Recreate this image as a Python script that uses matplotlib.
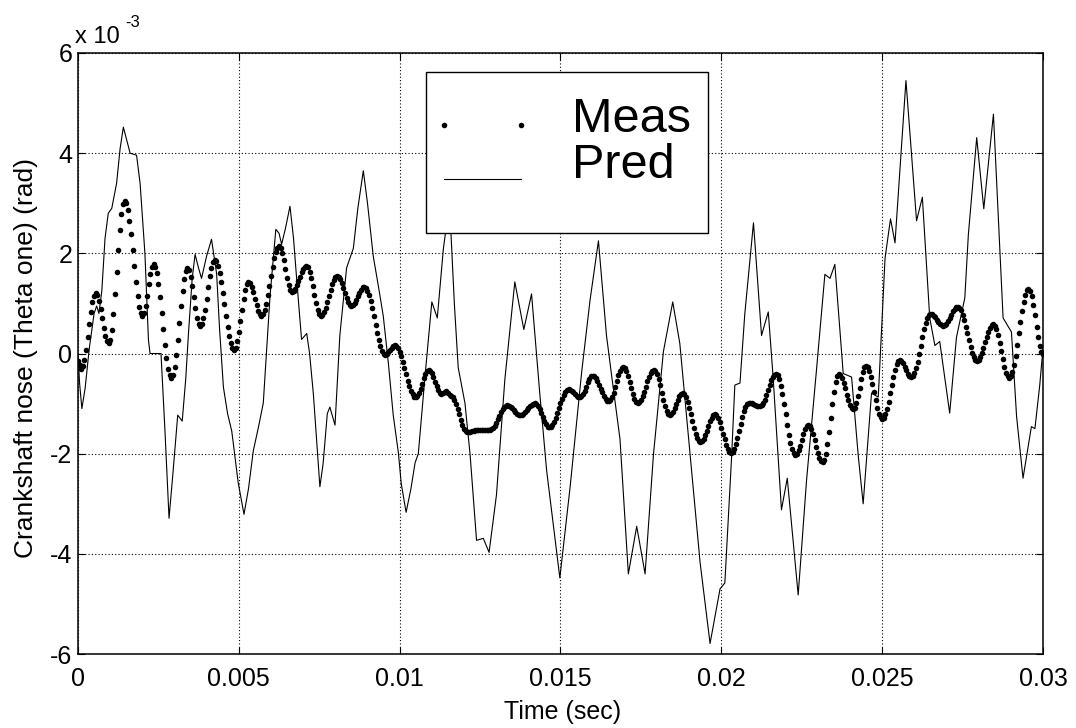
import numpy as np
import matplotlib
matplotlib.use('Agg')
import matplotlib.pyplot as plt
from matplotlib.patches import Rectangle

plt.rcParams['font.family'] = ['Liberation Sans', 'DejaVu Sans']

# measured crankshaft nose angle, sampled every 0.05 ms (units of 1e-3 rad)
meas_dt_ms = 0.05
meas = [
    -0.15, -0.225, -0.30, -0.25, -0.12, 0.07, 0.32, 0.58, 0.82, 1.02,
    1.15, 1.20, 1.16, 1.05, 0.89, 0.70, 0.51, 0.35, 0.24, 0.20,
    0.27, 0.47, 0.79, 1.18, 1.63, 2.07, 2.46, 2.78, 2.98, 3.05,
    3.00, 2.87, 2.65, 2.38, 2.06, 1.74, 1.42, 1.15, 0.93, 0.80,
    0.75, 0.80, 0.94, 1.15, 1.38, 1.59, 1.73, 1.78, 1.73, 1.60,
    1.39, 1.12, 0.81, 0.49, 0.18, -0.09, -0.30, -0.43, -0.48, -0.43,
    -0.27, -0.03, 0.27, 0.61, 0.95, 1.25, 1.49, 1.65, 1.70, 1.66,
    1.53, 1.34, 1.12, 0.90, 0.71, 0.58, 0.54, 0.58, 0.70, 0.87,
    1.09, 1.32, 1.54, 1.71, 1.83, 1.87, 1.84, 1.75, 1.61, 1.42,
    1.21, 0.98, 0.74, 0.53, 0.34, 0.20, 0.11, 0.08, 0.12, 0.24,
    0.42, 0.64, 0.87, 1.09, 1.27, 1.39, 1.43, 1.40, 1.33, 1.22,
    1.09, 0.96, 0.85, 0.78, 0.75, 0.78, 0.86, 0.99, 1.16, 1.35,
    1.54, 1.73, 1.90, 2.03, 2.11, 2.14, 2.11, 2.01, 1.86, 1.69,
    1.51, 1.36, 1.27, 1.23, 1.25, 1.29, 1.36, 1.44, 1.53, 1.62,
    1.69, 1.73, 1.75, 1.72, 1.63, 1.50, 1.34, 1.16, 1.00, 0.87,
    0.78, 0.75, 0.77, 0.83, 0.91, 1.03, 1.15, 1.27, 1.39, 1.47,
    1.53, 1.55, 1.53, 1.48, 1.40, 1.30, 1.20, 1.10, 1.02, 0.97,
    0.95, 0.96, 1.01, 1.07, 1.14, 1.21, 1.27, 1.32, 1.33, 1.31,
    1.25, 1.16, 1.04, 0.90, 0.74, 0.57, 0.41, 0.27, 0.15, 0.06,
    0.00, -0.02, -0.01, 0.03, 0.08, 0.12, 0.16, 0.17, 0.16, 0.11,
    0.04, -0.05, -0.16, -0.29, -0.41, -0.54, -0.65, -0.74, -0.81, -0.86,
    -0.87, -0.85, -0.79, -0.70, -0.60, -0.49, -0.40, -0.34, -0.32, -0.34,
    -0.39, -0.47, -0.56, -0.65, -0.73, -0.78, -0.80, -0.79, -0.76, -0.75,
    -0.78, -0.83, -0.85, -0.87, -0.92, -1.00, -1.10, -1.21, -1.32, -1.42,
    -1.50, -1.55, -1.57, -1.57, -1.56, -1.55, -1.54, -1.53, -1.52, -1.52,
    -1.52, -1.53, -1.53, -1.53, -1.53, -1.52, -1.52, -1.51, -1.48, -1.44,
    -1.38, -1.31, -1.24, -1.17, -1.11, -1.07, -1.04, -1.03, -1.04, -1.06,
    -1.09, -1.13, -1.17, -1.20, -1.22, -1.23, -1.22, -1.20, -1.17, -1.13,
    -1.09, -1.05, -1.02, -1.00, -0.99, -1.00, -1.05, -1.11, -1.19, -1.27,
    -1.35, -1.41, -1.46, -1.47, -1.46, -1.42, -1.36, -1.28, -1.19, -1.09,
    -0.99, -0.90, -0.82, -0.76, -0.72, -0.71, -0.72, -0.74, -0.77, -0.81,
    -0.84, -0.86, -0.87, -0.85, -0.81, -0.74, -0.66, -0.57, -0.50, -0.45,
    -0.44, -0.45, -0.49, -0.55, -0.62, -0.70, -0.77, -0.84, -0.90, -0.94,
    -0.95, -0.93, -0.87, -0.78, -0.67, -0.55, -0.43, -0.34, -0.28, -0.26,
    -0.28, -0.35, -0.44, -0.56, -0.69, -0.81, -0.90, -0.97, -0.99, -0.97,
    -0.93, -0.85, -0.76, -0.66, -0.55, -0.46, -0.38, -0.34, -0.32, -0.34,
    -0.41, -0.51, -0.63, -0.78, -0.92, -1.04, -1.14, -1.21, -1.23, -1.21,
    -1.17, -1.09, -1.01, -0.93, -0.85, -0.81, -0.79, -0.81, -0.87, -0.96,
    -1.08, -1.21, -1.35, -1.48, -1.60, -1.69, -1.75, -1.77, -1.75, -1.70,
    -1.63, -1.54, -1.44, -1.35, -1.28, -1.23, -1.21, -1.23, -1.28, -1.37,
    -1.48, -1.60, -1.71, -1.82, -1.91, -1.96, -1.98, -1.96, -1.90, -1.81,
    -1.69, -1.55, -1.41, -1.27, -1.15, -1.06, -1.00, -0.98, -0.98, -0.99,
    -1.01, -1.02, -1.04, -1.05, -1.05, -1.03, -0.99, -0.92, -0.83, -0.73,
    -0.62, -0.53, -0.46, -0.42, -0.40, -0.43, -0.51, -0.64, -0.81, -1.00,
    -1.21, -1.42, -1.62, -1.78, -1.91, -1.99, -2.02, -2.00, -1.93, -1.84,
    -1.72, -1.61, -1.51, -1.44, -1.42, -1.44, -1.51, -1.61, -1.73, -1.86,
    -1.98, -2.08, -2.15, -2.17, -2.13, -2.00, -1.81, -1.56, -1.29, -1.01,
    -0.76, -0.57, -0.44, -0.40, -0.42, -0.48, -0.58, -0.69, -0.82, -0.93,
    -1.03, -1.09, -1.11, -1.08, -0.98, -0.84, -0.68, -0.51, -0.37, -0.27,
    -0.24, -0.27, -0.34, -0.46, -0.61, -0.77, -0.93, -1.08, -1.20, -1.27,
    -1.30, -1.28, -1.21, -1.10, -0.96, -0.79, -0.63, -0.46, -0.32, -0.21,
    -0.14, -0.12, -0.14, -0.19, -0.26, -0.33, -0.40, -0.45, -0.47, -0.45,
    -0.39, -0.29, -0.16, 0.00, 0.16, 0.32, 0.48, 0.61, 0.71, 0.77,
    0.79, 0.78, 0.75, 0.72, 0.67, 0.62, 0.58, 0.56, 0.55, 0.56,
    0.59, 0.65, 0.71, 0.77, 0.84, 0.89, 0.92, 0.93, 0.91, 0.86,
    0.77, 0.66, 0.53, 0.40, 0.26, 0.13, 0.02, -0.07, -0.12, -0.14,
    -0.12, -0.07, 0.01, 0.11, 0.22, 0.33, 0.43, 0.51, 0.56, 0.58,
    0.55, 0.48, 0.36, 0.21, 0.05, -0.11, -0.26, -0.38, -0.45, -0.48,
    -0.45, -0.36, -0.22, -0.04, 0.18, 0.41, 0.63, 0.85, 1.03, 1.17,
    1.26, 1.29, 1.25, 1.14, 0.97, 0.76, 0.53, 0.32, 0.15, 0.04,
    0.00,
]

# predicted response (ms, 1e-3 rad)
pred_t_ms = [
    0.00, 0.05, 0.12, 0.22, 0.35, 0.50, 0.58, 0.65, 0.74, 0.84,
    0.94, 1.05, 1.20, 1.31, 1.41, 1.50, 1.62, 1.82, 1.93, 2.08,
    2.19, 2.24, 2.58, 2.70, 2.83, 2.95, 3.10, 3.24, 3.35, 3.43,
    3.55, 3.64, 3.75, 3.84, 4.00, 4.15, 4.31, 4.40, 4.52, 4.65,
    4.78, 4.98, 5.16, 5.30, 5.45, 5.60, 5.76, 5.97, 6.15, 6.25,
    6.33, 6.45, 6.59, 6.70, 6.80, 6.95, 7.11, 7.20, 7.32, 7.45,
    7.52, 7.62, 7.75, 7.83, 7.99, 8.14, 8.35, 8.56, 8.70, 8.87,
    9.00, 9.18, 9.35, 9.49, 9.65, 9.80, 9.96, 10.05, 10.20, 10.35,
    10.48, 10.58, 10.79, 11.00, 11.17, 11.36, 11.55, 11.70, 11.82, 12.03,
    12.19, 12.39, 12.60, 12.78, 13.01, 13.27, 13.58, 13.86, 14.10, 14.36,
    14.57, 14.98, 15.30, 15.66, 15.92, 16.18, 16.43, 16.59, 16.85, 17.11,
    17.37, 17.63, 17.89, 18.20, 18.49, 18.71, 19.03, 19.34, 19.65, 19.96,
    20.11, 20.32, 20.42, 20.58, 20.73, 21.00, 21.25, 21.46, 21.61, 21.87,
    22.05, 22.39, 22.65, 22.96, 23.22, 23.38, 23.53, 23.79, 24.05, 24.26,
    24.41, 24.67, 24.88, 25.09, 25.26, 25.40, 25.74, 26.07, 26.25, 26.48,
    26.64, 26.79, 27.10, 27.31, 27.57, 27.68, 27.94, 28.16, 28.46, 28.76,
    29.02, 29.18, 29.38, 29.64, 29.75, 29.90, 30.00,
]
pred = [
    0.00, -0.60, -1.10, -0.70, 0.10, 0.80, 0.95, 0.80, 1.25, 2.30,
    2.80, 2.90, 3.40, 4.10, 4.52, 4.30, 4.00, 3.96, 3.40, 2.00,
    0.27, 0.00, 0.00, -1.50, -3.29, -2.40, -1.23, -1.35, -0.50, 0.36,
    1.50, 1.98, 1.70, 1.50, 1.95, 2.28, 1.59, 0.50, -0.67, -1.20,
    -1.55, -2.58, -3.21, -2.70, -1.94, -1.50, -0.99, 1.15, 2.48, 2.40,
    2.18, 2.50, 2.94, 2.30, 1.47, 0.28, 0.40, 0.00, -0.83, -2.00,
    -2.66, -2.20, -1.20, -1.07, -1.43, 0.36, 1.71, 2.10, 2.90, 3.65,
    3.00, 1.94, 1.30, 0.75, -0.20, -1.23, -1.98, -2.60, -3.17, -2.70,
    -2.18, -2.00, -0.44, 1.03, 0.71, 2.10, 3.00, 1.00, -0.28, -0.99,
    -2.02, -3.73, -3.69, -3.97, -2.82, -0.52, 1.43, 0.48, 1.19, -0.83,
    -2.34, -4.48, -2.66, -0.36, 1.07, 2.25, 0.36, -0.44, -1.71, -4.40,
    -3.45, -4.40, -2.02, 0.04, 1.03, 0.20, -2.02, -4.17, -5.79, -4.70,
    -4.58, -2.06, -0.63, -0.59, 0.79, 2.61, 0.36, 0.83, -0.47, -3.12,
    -2.49, -4.82, -2.53, -0.32, 1.58, 1.50, 1.78, -0.40, -0.47, -2.06,
    -3.00, -0.79, -0.87, 1.90, 2.69, 2.21, 5.45, 2.65, 3.12, 0.71,
    0.16, 0.24, -1.19, 0.32, 1.11, 2.37, 4.31, 2.89, 4.78, 0.71,
    0.43, -1.26, -2.49, -1.46, -1.50, -0.63, 0.10,
]

x_ticks = [0, 0.005, 0.01, 0.015, 0.02, 0.025, 0.03]
x_ticklabels = ['0', '0.005', '0.01', '0.015', '0.02', '0.025', '0.03']
y_ticks = [-6, -4, -2, 0, 2, 4, 6]

meas_t = np.arange(len(meas)) * meas_dt_ms * 1e-3
pred_t = np.array(pred_t_ms) * 1e-3

fig = plt.figure(figsize=(10.76, 7.28), dpi=100)
ax = fig.add_axes([0.0725, 0.1016, 0.8968, 0.8256])

ax.plot(pred_t, pred, color='black', linewidth=0.8, zorder=3)
ax.plot(meas_t, meas, linestyle='none', marker='o', markersize=4.0,
        markeredgewidth=0, color='black', zorder=4)

ax.set_xlim(0, 0.03)
ax.set_ylim(-6, 6)
ax.set_xticks(x_ticks)
ax.set_xticklabels(x_ticklabels)
ax.set_yticks(y_ticks)
ax.set_yticklabels([str(v) for v in y_ticks])
ax.tick_params(direction='in', top=True, right=True, length=5, width=0.8,
               labelsize=18)
ax.tick_params(axis='x', pad=9)
ax.tick_params(axis='y', pad=4)
ax.grid(True, color='black', linestyle=(0, (1, 2)), linewidth=0.8)
ax.set_axisbelow(True)
for s in ax.spines.values():
    s.set_linewidth(1.1)

# scale factor above the y axis
fig.text(75 / 1076, 1 - 43 / 728, 'x 10', fontsize=17, va='baseline')
fig.text(125 / 1076, 1 - 27 / 728, '-3', fontsize=12, va='baseline')

fig.text(26 / 1076, 1 - 358 / 728, 'Crankshaft nose (Theta one) (rad)',
         rotation=90, ha='center', va='center', fontsize=19)
fig.text(563 / 1076, 1 - 712 / 728, 'Time (sec)', ha='center', va='center',
         fontsize=18)

# legend box drawn by hand (MATLAB style)
ax.add_patch(Rectangle((0.3606, 0.7005), 0.2922, 0.2679, transform=ax.transAxes,
                       facecolor='white', edgecolor='black', linewidth=1.0,
                       zorder=6))
ax.plot([0.3793, 0.4591], [0.8802, 0.8802], transform=ax.transAxes,
        linestyle='none', marker='o', markersize=4.0, markeredgewidth=0,
        color='black', zorder=7)
ax.plot([0.3793, 0.4591], [0.7903, 0.7903], transform=ax.transAxes,
        color='black', linewidth=0.8, zorder=7)
ax.text(0.5119, 0.8686, 'Meas', transform=ax.transAxes, fontsize=35,
        va='baseline', zorder=7)
ax.text(0.5119, 0.792, 'Pred', transform=ax.transAxes, fontsize=35,
        va='baseline', zorder=7)

fig.savefig('out.png', dpi=100)
